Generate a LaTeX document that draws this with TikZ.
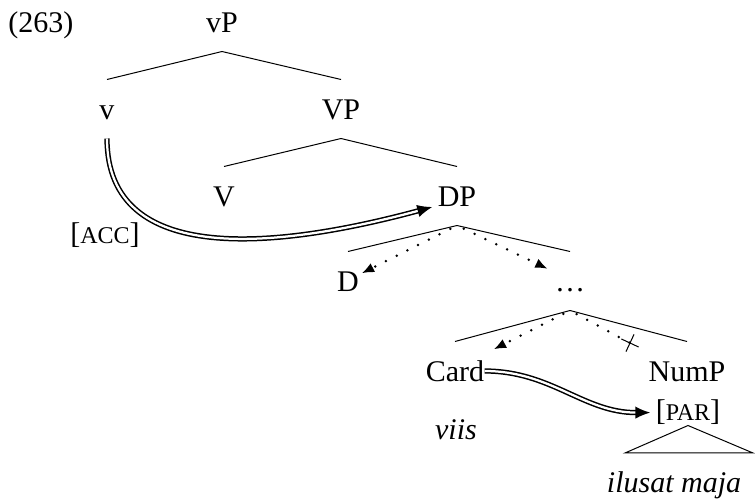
\documentclass[tikz,border=0pt]{standalone}
\usepackage{fontspec}
\setmainfont{Liberation Serif}
\usetikzlibrary{arrows.meta, shapes.misc}

\newcommand{\kap}[1]{{\fontsize{9.6pt}{11pt}\selectfont #1}}

\begin{document}
\begin{tikzpicture}[x=0.4pt, y=-0.4pt,
			kat/.style={anchor=base, inner sep=0pt, text height=16pt, text depth=7.2pt},
			wort/.style={anchor=base, inner sep=0pt},
			punkt/.style={line width=1.1pt, dash pattern=on 0pt off 4.8pt, line cap=round, -{Latex[length=5pt,width=4pt]}, shorten <=3pt},
			doppel/.style={double, double distance=0.9pt, line width=0.6pt, -{Latex[length=6pt,width=5pt]}},
			kreuz/.style={draw, cross out, minimum size=5.4pt, inner sep=0pt, outer sep=0pt, rotate=20},
			font=\fontsize{12pt}{14pt}\selectfont]
			%Rahmen
			\useasboundingbox (0,0) rectangle (755,499);
			% Nummer
			\node[wort, anchor=base west] (ex) at (8,33) {(263)};
			% Kategorien setzen
			\node[kat] (vP) at (222,33) {vP};
			\node[kat] (v) at (107,120) {v};
			\node[kat] (VP) at (341,120) {VP};
			\node[kat] (V) at (224,207) {V};
			\node[kat] (DP) at (457,207) {DP};
			\node[kat] (D) at (348,292) {D};
			\node[kat] (dots) at (570,292) {\dots};
			\node[kat] (Card) at (455,382) {Card};
			\node[kat] (NumP) at (687,382) {NumP};
			% Merkmale und Woerter
			\node[wort] (acc) at (105,244) {[\kap{ACC}]};
			\node[wort] (par) at (688,421) {[\kap{PAR}]};
			\node[wort] (viis) at (456,440) {\textit{viis}};
			\node[wort] (ilusat) at (674,493) {\textit{ilusat maja}};
			% Aeste zeichnen
			\foreach \p/\c in {vP/v, vP/VP, VP/V, VP/DP, DP/D, DP/dots, dots/Card, dots/NumP}
				\draw (\p.south) -- (\c.north);
			% Dreieck
			\coordinate (roof-l) at (625,453);
			\coordinate (roof-r) at (753,453);
			\draw (par.south) -- (roof-l) -- (roof-r) -- cycle;
			% Pfeile
			\draw[doppel] (v.south) .. controls +(0,130) and +(-152,41) .. ([xshift=-2pt]DP.base west);
			\draw[doppel] (Card.east) to[out=0, in=180] ([xshift=-2pt]par.west);
			\draw[punkt, shorten >=1pt] (DP.south) -- (D.30);
			\draw[punkt, shorten >=3pt] (DP.south) -- (dots.150);
			\draw[punkt, shorten >=4pt] (dots.south) -- (Card.30);
			% blockierter Weg
			\coordinate (stop) at ([shift={(24pt,-13pt)}]dots.south);
			\draw[punkt, -] (dots.south) -- (stop);
			\node[kreuz] (x) at (stop) {};
\end{tikzpicture}
\end{document}
